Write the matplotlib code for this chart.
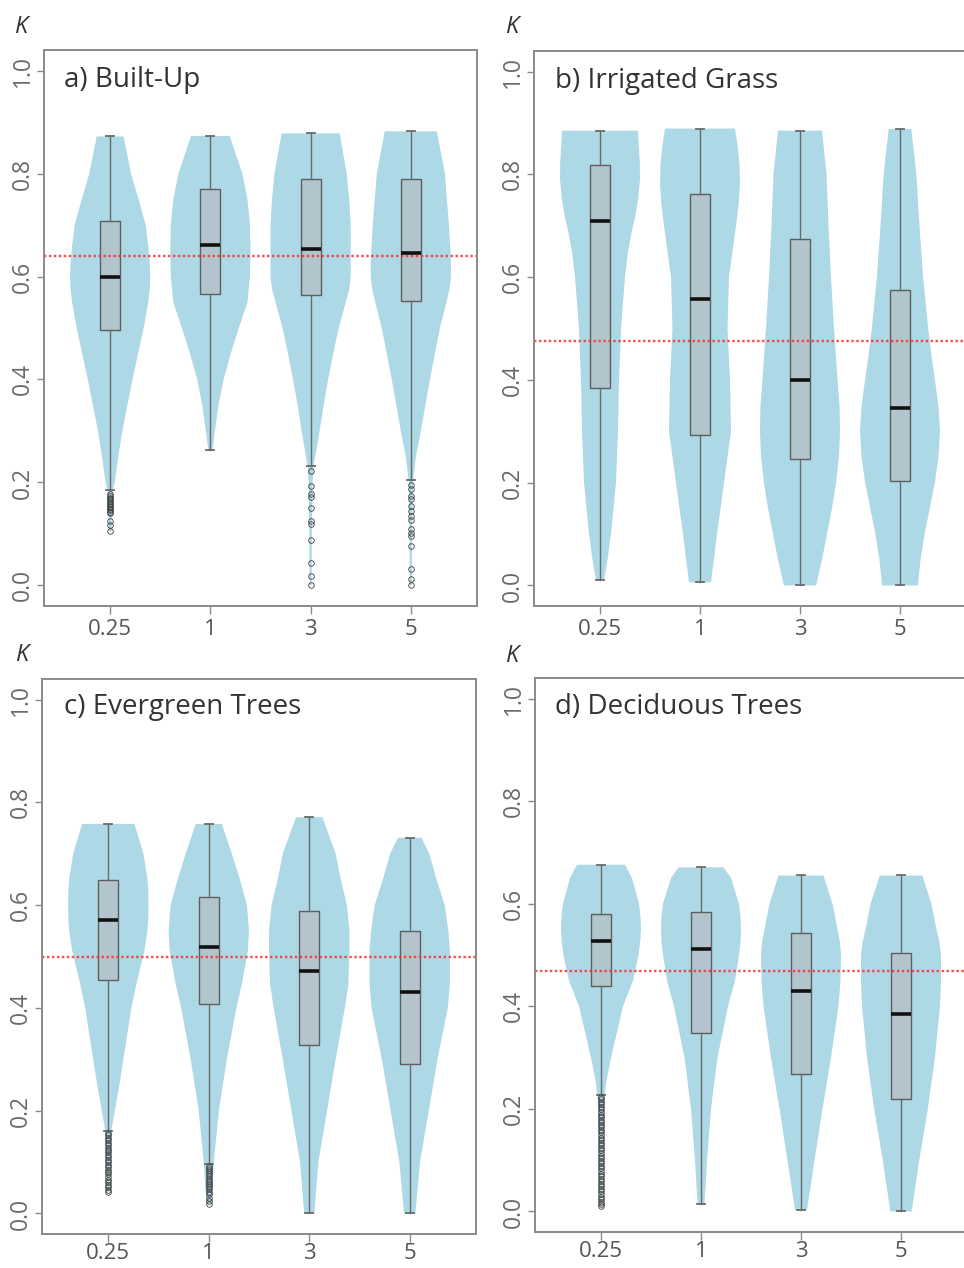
import matplotlib
matplotlib.use("Agg")
import matplotlib.pyplot as plt
import numpy as np

plt.rcParams['font.family'] = ['Open Sans', 'DejaVu Sans']

# ---------------- data ----------------
tick_labels = ["0.25", "1", "3", "5"]
panel_titles = ["a) Built-Up", "b) Irrigated Grass", "c) Evergreen Trees", "d) Deciduous Trees"]
ref_lines = [0.639, 0.475, 0.499, 0.468]

# violin profiles: y levels and relative widths
a_coords = [
    [0.105, 0.15, 0.185, 0.2, 0.25, 0.3, 0.35, 0.4, 0.45, 0.5, 0.55, 0.575, 0.6, 0.625, 0.65, 0.7, 0.75, 0.8, 0.872],
    [0.263, 0.3, 0.35, 0.4, 0.45, 0.5, 0.55, 0.6, 0.65, 0.7, 0.75, 0.8, 0.873],
    [0.0, 0.1, 0.2, 0.232, 0.3, 0.35, 0.4, 0.45, 0.5, 0.55, 0.575, 0.6, 0.65, 0.7, 0.75, 0.8, 0.878],
    [0.0, 0.1, 0.2, 0.25, 0.3, 0.35, 0.4, 0.45, 0.5, 0.55, 0.575, 0.6, 0.625, 0.65, 0.7, 0.75, 0.8, 0.882],
]
a_widths = [
    [0.012, 0.015, 0.025, 0.045, 0.08, 0.12, 0.17, 0.22, 0.275, 0.33, 0.375, 0.39, 0.395, 0.39, 0.38, 0.35, 0.28, 0.205, 0.133],
    [0.02, 0.045, 0.08, 0.13, 0.2, 0.28, 0.365, 0.39, 0.395, 0.39, 0.365, 0.315, 0.19],
    [0.01, 0.012, 0.02, 0.03, 0.09, 0.13, 0.175, 0.225, 0.28, 0.35, 0.385, 0.40, 0.40, 0.40, 0.385, 0.36, 0.29],
    [0.01, 0.012, 0.02, 0.05, 0.10, 0.145, 0.19, 0.24, 0.29, 0.355, 0.385, 0.40, 0.40, 0.395, 0.38, 0.36, 0.34, 0.26],
]
b_coords = [
    [0.011, 0.05, 0.1, 0.2, 0.3, 0.4, 0.5, 0.6, 0.65, 0.7, 0.72, 0.75, 0.79, 0.82, 0.85, 0.885],
    [0.006, 0.1, 0.2, 0.3, 0.4, 0.5, 0.6, 0.7, 0.74, 0.78, 0.82, 0.85, 0.889],
    [0.0, 0.05, 0.1, 0.15, 0.2, 0.25, 0.3, 0.35, 0.4, 0.5, 0.6, 0.7, 0.8, 0.885],
    [0.0, 0.05, 0.1, 0.15, 0.2, 0.25, 0.3, 0.35, 0.4, 0.45, 0.5, 0.6, 0.7, 0.8, 0.888],
]
b_widths = [
    [0.04, 0.075, 0.11, 0.16, 0.18, 0.19, 0.21, 0.25, 0.28, 0.33, 0.355, 0.38, 0.40, 0.398, 0.39, 0.38],
    [0.11, 0.17, 0.24, 0.31, 0.30, 0.275, 0.29, 0.36, 0.385, 0.40, 0.395, 0.38, 0.35],
    [0.16, 0.22, 0.27, 0.32, 0.36, 0.39, 0.40, 0.395, 0.375, 0.34, 0.31, 0.285, 0.265, 0.22],
    [0.175, 0.20, 0.24, 0.29, 0.34, 0.375, 0.39, 0.375, 0.34, 0.305, 0.275, 0.225, 0.19, 0.16, 0.11],
]
c_coords = [
    [0.042, 0.1, 0.161, 0.2, 0.25, 0.3, 0.35, 0.4, 0.447, 0.512, 0.55, 0.575, 0.6, 0.625, 0.65, 0.7, 0.758],
    [0.019, 0.05, 0.1, 0.2, 0.3, 0.4, 0.447, 0.512, 0.55, 0.6, 0.65, 0.7, 0.758],
    [0.0, 0.1, 0.2, 0.3, 0.4, 0.447, 0.512, 0.55, 0.6, 0.65, 0.7, 0.771],
    [0.0, 0.1, 0.2, 0.3, 0.4, 0.447, 0.512, 0.55, 0.6, 0.65, 0.7, 0.731],
]
c_widths = [
    [0.01, 0.015, 0.03, 0.065, 0.11, 0.15, 0.19, 0.23, 0.28, 0.36, 0.39, 0.398, 0.40, 0.398, 0.39, 0.35, 0.26],
    [0.02, 0.035, 0.05, 0.10, 0.18, 0.275, 0.33, 0.39, 0.40, 0.38, 0.31, 0.23, 0.13],
    [0.05, 0.09, 0.175, 0.26, 0.35, 0.385, 0.395, 0.395, 0.37, 0.31, 0.26, 0.13],
    [0.055, 0.10, 0.185, 0.27, 0.37, 0.39, 0.39, 0.375, 0.34, 0.26, 0.19, 0.115],
]
d_coords = [
    [0.01, 0.1, 0.2, 0.25, 0.3, 0.35, 0.4, 0.45, 0.5, 0.525, 0.55, 0.575, 0.6, 0.65, 0.676],
    [0.015, 0.1, 0.2, 0.3, 0.4, 0.45, 0.5, 0.525, 0.55, 0.575, 0.6, 0.65, 0.671],
    [0.003, 0.1, 0.2, 0.3, 0.4, 0.45, 0.5, 0.525, 0.55, 0.6, 0.655],
    [0.0, 0.1, 0.2, 0.3, 0.4, 0.45, 0.5, 0.525, 0.55, 0.6, 0.655],
]
d_widths = [
    [0.012, 0.015, 0.025, 0.05, 0.10, 0.16, 0.22, 0.32, 0.375, 0.392, 0.40, 0.395, 0.38, 0.31, 0.24],
    [0.035, 0.06, 0.10, 0.165, 0.27, 0.34, 0.38, 0.395, 0.40, 0.395, 0.38, 0.30, 0.225],
    [0.06, 0.135, 0.215, 0.30, 0.375, 0.395, 0.40, 0.39, 0.365, 0.315, 0.225],
    [0.105, 0.18, 0.265, 0.335, 0.385, 0.395, 0.395, 0.38, 0.35, 0.30, 0.21],
]

# box statistics: whisker low, q1, median, q3, whisker high
a_box = [[0.185, 0.497, 0.599, 0.708, 0.872],
         [0.263, 0.566, 0.661, 0.770, 0.873],
         [0.232, 0.564, 0.654, 0.790, 0.878],
         [0.205, 0.553, 0.646, 0.790, 0.882]]
b_box = [[0.011, 0.385, 0.710, 0.818, 0.885],
         [0.006, 0.292, 0.558, 0.762, 0.889],
         [0.000, 0.246, 0.399, 0.675, 0.885],
         [0.000, 0.203, 0.345, 0.574, 0.888]]
c_box = [[0.161, 0.454, 0.571, 0.649, 0.758],
         [0.096, 0.408, 0.519, 0.615, 0.758],
         [0.000, 0.327, 0.471, 0.588, 0.771],
         [0.000, 0.291, 0.430, 0.550, 0.731]]
d_box = [[0.228, 0.439, 0.527, 0.579, 0.676],
         [0.015, 0.348, 0.512, 0.584, 0.671],
         [0.003, 0.268, 0.429, 0.542, 0.655],
         [0.000, 0.220, 0.385, 0.504, 0.655]]

# outliers
a_fliers = [
    [0.178, 0.174, 0.17, 0.167, 0.164, 0.161, 0.158, 0.155, 0.152, 0.149, 0.146, 0.143, 0.14, 0.125, 0.118, 0.106],
    [],
    [0.222, 0.193, 0.177, 0.171, 0.151, 0.125, 0.119, 0.088, 0.044, 0.018, 0.0],
    [0.196, 0.187, 0.174, 0.167, 0.154, 0.145, 0.135, 0.128, 0.109, 0.102, 0.096, 0.076, 0.032, 0.013, 0.0],
]
b_fliers = [[], [], [], []]
c_fliers = [
    [0.156, 0.152, 0.147, 0.143, 0.138, 0.133, 0.128, 0.124, 0.119, 0.114, 0.109, 0.104, 0.1,
     0.095, 0.09, 0.085, 0.081, 0.076, 0.071, 0.066, 0.061, 0.056, 0.051, 0.046, 0.042],
    [0.092, 0.088, 0.084, 0.08, 0.076, 0.072, 0.068, 0.064, 0.06, 0.056, 0.052, 0.047, 0.042,
     0.037, 0.031, 0.025, 0.019],
    [], [],
]
d_fliers = [
    [0.224, 0.219, 0.214, 0.209, 0.204, 0.199, 0.194, 0.189, 0.184, 0.179, 0.174, 0.169, 0.164,
     0.159, 0.154, 0.149, 0.144, 0.139, 0.134, 0.129, 0.124, 0.119, 0.114, 0.109, 0.104, 0.099,
     0.094, 0.089, 0.084, 0.079, 0.074, 0.069, 0.064, 0.059, 0.054, 0.049, 0.044, 0.039, 0.034,
     0.029, 0.024, 0.019, 0.014, 0.01],
    [], [], [],
]

panels = [
    (a_coords, a_widths, a_box, a_fliers),
    (b_coords, b_widths, b_box, b_fliers),
    (c_coords, c_widths, c_box, c_fliers),
    (d_coords, d_widths, d_box, d_fliers),
]

# ---------------- layout ----------------
W, H = 964, 1268
fig = plt.figure(figsize=(W / 100, H / 100), dpi=100)
rects_px = [(44, 477, 50, 606), (534, 966, 51, 606), (42, 476, 679, 1234), (535, 967, 678, 1232)]
title_pos = [(0.046, 0.933), (0.049, 0.934), (0.051, 0.937), (0.046, 0.935)]
k_pos = [(15, 33), (506, 33), (16, 661), (506, 662)]
xpads = [3.5, 3.5, 0.5, 0.5]

spine_col = '#8a8a8a'
positions = [1, 2, 3, 4]

for i, (coords, widths, boxes, fliers) in enumerate(panels):
    l, r, t, b = rects_px[i]
    ax = fig.add_axes([l / W, 1 - b / H, (r - l) / W, (b - t) / H])

    vp = []
    for cs, ws, bx in zip(coords, widths, boxes):
        vp.append(dict(coords=np.array(cs), vals=np.array(ws), mean=bx[2], median=bx[2],
                       min=cs[0], max=cs[-1]))
    parts = ax.violin(vp, positions=positions, widths=0.8, showmeans=False,
                      showextrema=False, showmedians=False)
    for body in parts['bodies']:
        body.set_facecolor('#add8e6')
        body.set_edgecolor('none')
        body.set_alpha(1.0)

    bstats = []
    for bx, fl in zip(boxes, fliers):
        bstats.append(dict(whislo=bx[0], q1=bx[1], med=bx[2], q3=bx[3], whishi=bx[4],
                           fliers=np.array(fl)))
    ax.bxp(bstats, positions=positions, widths=0.2, capwidths=0.08, patch_artist=True,
           showfliers=True,
           boxprops=dict(facecolor='#b2c5cc', edgecolor='#5e5e5e', linewidth=1.0),
           medianprops=dict(color='#111111', linewidth=2.6),
           whiskerprops=dict(color='#6a6a6a', linewidth=1.0),
           capprops=dict(color='#6a6a6a', linewidth=1.3),
           flierprops=dict(marker='o', markersize=4, markerfacecolor='none',
                           markeredgecolor='#3c3c3c', markeredgewidth=0.6))

    ax.axhline(ref_lines[i], color='#ff2a2a', linestyle=(0, (1, 1.1)), linewidth=1.7, alpha=0.85)

    ax.set_xlim(0.34, 4.66)
    ax.set_ylim(-0.04, 1.04)
    ax.set_xticks(positions)
    ax.set_xticklabels(tick_labels)
    ax.set_yticks([0.0, 0.2, 0.4, 0.6, 0.8, 1.0])
    ax.set_yticklabels(["0.0", "0.2", "0.4", "0.6", "0.8", "1.0"], rotation=90, va='center')
    ax.tick_params(axis='x', length=6, width=1.0, color=spine_col, labelsize=16,
                   labelcolor='#555555', pad=xpads[i])
    ax.tick_params(axis='y', length=5, width=1.0, color=spine_col, labelsize=16.5,
                   labelcolor='#6a6a6a', pad=1.5)
    for s in ax.spines.values():
        s.set_color(spine_col)
        s.set_linewidth(1.4)

    ax.text(title_pos[i][0], title_pos[i][1], panel_titles[i], transform=ax.transAxes,
            fontsize=20, color='#333333', ha='left', va='baseline')

    kx, ky = k_pos[i]
    fig.text(kx / W, 1 - ky / H, "K", fontsize=17, style='italic', color='#333333',
             ha='left', va='baseline')

fig.savefig("out.png", dpi=100)
